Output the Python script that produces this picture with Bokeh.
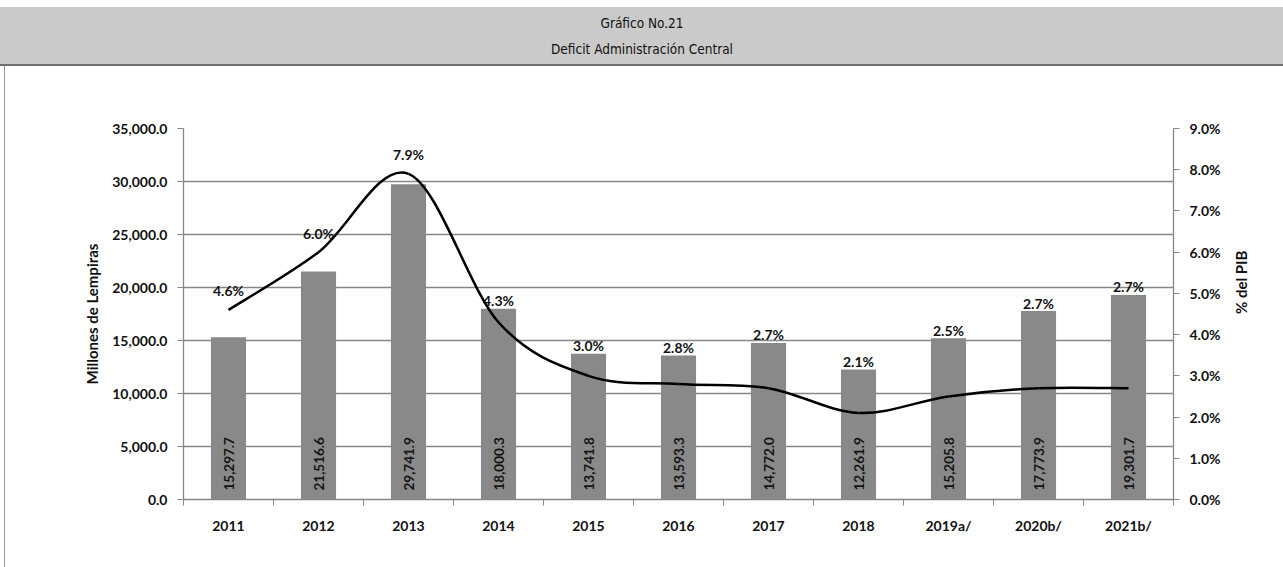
import math
from bokeh.plotting import figure
from bokeh.models import (Range1d, LinearAxis, FixedTicker, NumeralTickFormatter,
                          PrintfTickFormatter, Spacer)
from bokeh.layouts import column, row
from bokeh.embed import file_html
from bokeh.resources import INLINE
from bokeh.core.properties import value

# ---------------- data ----------------
TITLE_LINES = ["Gráfico No.21", "Deficit Administración Central"]
YEARS = ["2011", "2012", "2013", "2014", "2015", "2016", "2017", "2018",
         "2019a/", "2020b/", "2021b/"]
DEFICIT = [15297.7, 21516.6, 29741.9, 18000.3, 13741.8, 13593.3, 14772.0,
           12261.9, 15205.8, 17773.9, 19301.7]
PCT_PIB = [4.6, 6.0, 7.9, 4.3, 3.0, 2.8, 2.7, 2.1, 2.5, 2.7, 2.7]
LEFT_TICKS = [0, 5000, 10000, 15000, 20000, 25000, 30000, 35000]
RIGHT_TICKS = [0, 1, 2, 3, 4, 5, 6, 7, 8, 9]
Y_LABEL_LEFT = "Millones de Lempiras"
Y_LABEL_RIGHT = "% del PIB"

# ---------------- layout constants ----------------
W = 1283
TOP_PAD = 7
HEAD_H = 57
SEP_H = 2
MAIN_H = 567 - TOP_PAD - HEAD_H - SEP_H
FRAME_L, FRAME_R = 183, 1173          # page x of the plot frame
LMAX = LEFT_TICKS[-1]
RMAX = RIGHT_TICKS[-1]
BOLD = "Lato"
TITLE_FONT = "'DejaVu Sans Condensed', 'Liberation Sans Narrow', 'Liberation Sans', sans-serif"

# ---------------- header ----------------
head = figure(width=W, height=HEAD_H, x_range=Range1d(FRAME_L, FRAME_R),
              y_range=Range1d(0, HEAD_H), output_backend="svg", toolbar_location=None,
              x_axis_type=None, y_axis_type=None,
              min_border_left=FRAME_L, min_border_right=W - FRAME_R,
              min_border_top=0, min_border_bottom=0,
              background_fill_alpha=0, border_fill_alpha=0, outline_line_color=None,
              styles={"background-color": "#cacaca"})
head.text(x=[W / 2, W / 2], y=[HEAD_H - 15, HEAD_H - 41], text=TITLE_LINES,
          text_align="center", text_baseline="middle",
          text_font=value(TITLE_FONT), text_font_size="13.5px",
          text_color="#111111")

sep = Spacer(width=W, height=SEP_H, styles={"background-color": "#707070"})

# ---------------- main chart ----------------
n = len(YEARS)
xs = [i + 0.5 for i in range(n)]
LINE_X = 4
PW = W - LINE_X - 1

p = figure(width=PW, height=MAIN_H, x_range=Range1d(0, n), y_range=Range1d(0, LMAX),
           output_backend="svg", toolbar_location=None,
           min_border_left=FRAME_L - LINE_X - 1, min_border_right=W - FRAME_R,
           min_border_top=128 - (TOP_PAD + HEAD_H + SEP_H),
           min_border_bottom=567 - 499,
           outline_line_color=None, background_fill_color="white", border_fill_color="white")
p.extra_y_ranges = {"pct": Range1d(0, RMAX)}

# bars
p.vbar(x=xs, top=DEFICIT, width=0.39, fill_color="#898989", line_color=None)

# bar value labels (vertical, inside bars)
p.text(x=xs, y=[0] * n, text=[f"{v:,.1f}" for v in DEFICIT], angle=math.pi / 2,
       text_align="left", text_baseline="middle", y_offset=-9,
       text_font=value(BOLD), text_font_style="bold", text_font_size="13.5px",
       text_color="#141414")

# smoothed line (Bezier segments through the data points)
x0, y0, x1, y1, cx0, cy0, cx1, cy1 = [], [], [], [], [], [], [], []
for i in range(n - 1):
    ip = max(i - 1, 0)
    i2 = min(i + 2, n - 1)
    x0.append(xs[i]); y0.append(PCT_PIB[i])
    x1.append(xs[i + 1]); y1.append(PCT_PIB[i + 1])
    cx0.append(xs[i] + (xs[i + 1] - xs[ip]) / 6)
    cy0.append(PCT_PIB[i] + (PCT_PIB[i + 1] - PCT_PIB[ip]) / 6)
    cx1.append(xs[i + 1] - (xs[i2] - xs[i]) / 6)
    cy1.append(PCT_PIB[i + 1] - (PCT_PIB[i2] - PCT_PIB[i]) / 6)
p.bezier(x0=x0, y0=y0, x1=x1, y1=y1, cx0=cx0, cy0=cy0, cx1=cx1, cy1=cy1,
         line_color="black", line_width=2.5, y_range_name="pct")

# percentage labels: above the line point, or above the bar when the bar is higher
bar_in_pct = [d / LMAX * RMAX for d in DEFICIT]
anchor = [max(pc, b) for pc, b in zip(PCT_PIB, bar_in_pct)]
offs = [-19 if pc >= b else -8 for pc, b in zip(PCT_PIB, bar_in_pct)]
p.text(x=xs, y=anchor, text=[f"{v:.1f}%" for v in PCT_PIB], y_range_name="pct",
       text_align="center", text_baseline="middle", y_offset=offs,
       text_font=value(BOLD), text_font_style="bold", text_font_size="14px",
       text_color="#111111")

# axes
GRID_C = "#878787"
xa = p.xaxis[0]
xa.ticker = FixedTicker(ticks=xs, minor_ticks=list(range(n + 1)))
xa.major_label_overrides = {x: y for x, y in zip(xs, YEARS)}
xa.major_tick_out = 0
xa.major_tick_in = 0
xa.minor_tick_out = 6
xa.minor_tick_in = 0
xa.minor_tick_line_color = GRID_C
xa.axis_line_color = GRID_C
xa.axis_line_width = 1.3
xa.major_label_standoff = 11
xa.major_label_text_font = BOLD
xa.major_label_text_font_style = "bold"
xa.major_label_text_font_size = "14px"
xa.major_label_text_color = "#111111"

ya = p.yaxis[0]
ya.ticker = FixedTicker(ticks=LEFT_TICKS)
ya.formatter = NumeralTickFormatter(format="0,0.0")
ya.axis_label = Y_LABEL_LEFT
ya.minor_tick_line_color = None

yr = LinearAxis(y_range_name="pct", ticker=FixedTicker(ticks=RIGHT_TICKS),
                formatter=PrintfTickFormatter(format="%.1f%%"), axis_label=Y_LABEL_RIGHT)
yr.minor_tick_line_color = None
try:
    yr.axis_label_orientation = math.pi / 2
except Exception:
    pass
p.add_layout(yr, "right")

for ax in (ya, yr):
    ax.axis_line_color = GRID_C
    ax.axis_line_width = 1.3
    ax.major_tick_line_color = GRID_C
    ax.major_tick_out = 6
    ax.major_tick_in = 0
    ax.major_label_standoff = 10
    ax.major_label_text_font = BOLD
    ax.major_label_text_font_style = "bold"
    ax.major_label_text_font_size = "14px"
    ax.major_label_text_color = "#111111"
    ax.axis_label_text_font = BOLD
    ax.axis_label_text_font_style = "bold"
    ax.axis_label_text_font_size = "15px"
    ax.axis_label_text_color = "#111111"
ya.axis_label_standoff = 8
yr.axis_label_standoff = 17

p.xgrid.visible = False
p.ygrid.ticker = FixedTicker(ticks=LEFT_TICKS)
p.ygrid.grid_line_color = GRID_C
p.ygrid.grid_line_width = 1.3

vline = Spacer(width=1, height=MAIN_H, styles={"background-color": "#9a9a9a"})

layout = column(Spacer(width=W, height=TOP_PAD), head, sep,
                row(Spacer(width=LINE_X, height=MAIN_H), vline, p, spacing=0),
                spacing=0)
open("out.html", "w").write(file_html(layout, INLINE))
